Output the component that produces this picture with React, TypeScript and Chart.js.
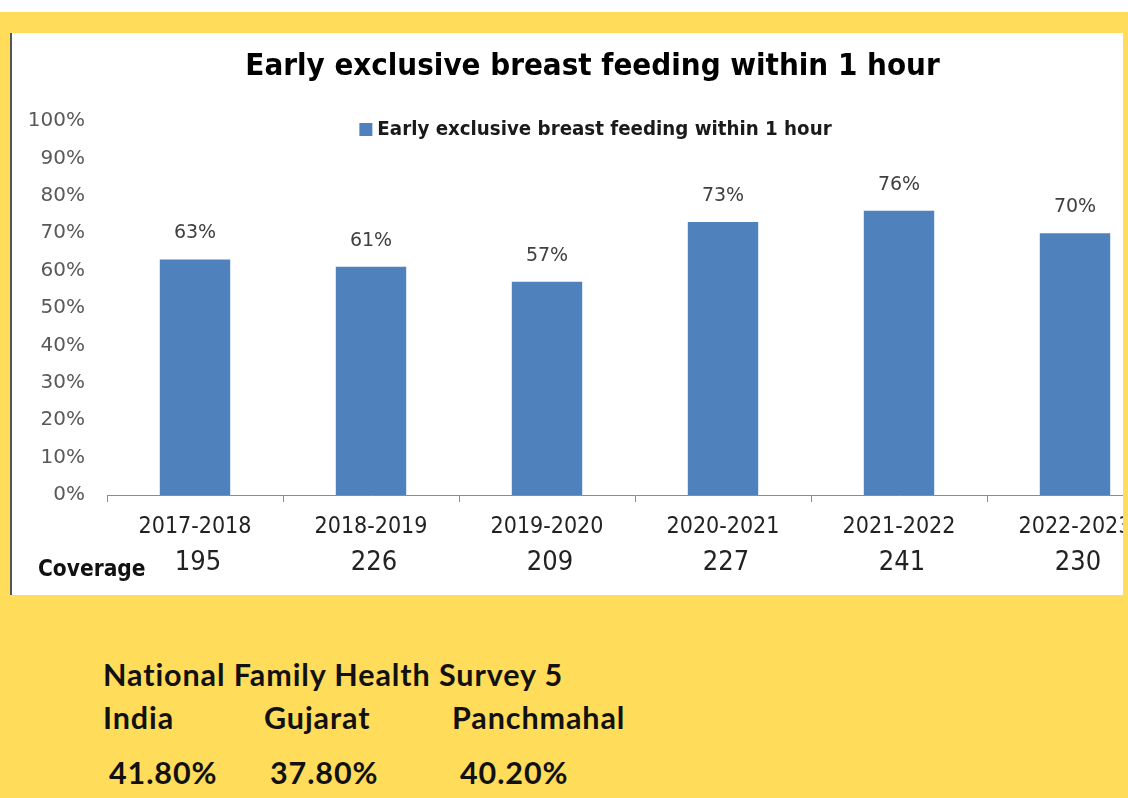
import React, { useEffect, useRef } from "react";
import { Chart, registerables } from "chart.js";

Chart.register(...registerables);

const titleText = "Early exclusive breast feeding within 1 hour";
const seriesLabel = "Early exclusive breast feeding within 1 hour";
const years = ["2017-2018", "2018-2019", "2019-2020", "2020-2021", "2021-2022", "2022-2023"];
const percentValues = [63, 61, 57, 73, 76, 70];
const coverageValues = [195, 226, 209, 227, 241, 230];
const coverageLabel = "Coverage";
const yTicks = [0, 10, 20, 30, 40, 50, 60, 70, 80, 90, 100];

const surveyTitle = "National Family Health Survey 5";
const nfhsRegions = ["India", "Gujarat", "Panchmahal"];
const nfhsValues = [41.8, 37.8, 40.2];

const YELLOW = "#FFDC5A";
const BAR = "#4F81BD";
const NARROW = '"DejaVu Sans Condensed", "Roboto", sans-serif';
const WIDE = '"DejaVu Sans", "Verdana", sans-serif';

const regionLeft = [103, 264, 452];
const valueLeft = [109, 270, 460];

export default function App() {
  const canvasRef = useRef<HTMLCanvasElement | null>(null);

  useEffect(() => {
    const canvas = canvasRef.current;
    if (!canvas) return;

    const legendPlugin = {
      id: "customLegend",
      afterDraw(chart: any) {
        const ctx = chart.ctx;
        const ds = chart.data.datasets[0];
        ctx.save();
        ctx.font = `bold 20.3px ${NARROW}`;
        const tw = ctx.measureText(ds.label).width;
        const box = 13;
        const gap = 5;
        const total = box + gap + tw;
        const cx = chart.width / 2 + 3;
        const cy = chart.chartArea.top + 8.5;
        const sx = cx - total / 2;
        ctx.fillStyle = ds.backgroundColor;
        ctx.fillRect(sx, cy - box / 2, box, box);
        ctx.fillStyle = "#1a1a1a";
        ctx.textBaseline = "middle";
        ctx.textAlign = "left";
        ctx.fillText(ds.label, sx + box + gap, cy);
        ctx.restore();
      },
    };

    const dataLabelPlugin = {
      id: "dataLabels",
      afterDatasetsDraw(chart: any) {
        const ctx = chart.ctx;
        const meta = chart.getDatasetMeta(0);
        ctx.save();
        ctx.font = `19px ${WIDE}`;
        ctx.fillStyle = "#404040";
        ctx.textAlign = "center";
        ctx.textBaseline = "middle";
        meta.data.forEach((el: any, i: number) => {
          ctx.fillText(`${chart.data.datasets[0].data[i]}%`, el.x, el.y - 26);
        });
        ctx.restore();
      },
    };

    const coveragePlugin = {
      id: "coverageRow",
      afterDraw(chart: any) {
        const ctx = chart.ctx;
        const xs = chart.scales.x;
        ctx.save();
        ctx.textBaseline = "middle";
        ctx.textAlign = "left";
        ctx.font = `bold 22.5px ${NARROW}`;
        ctx.fillStyle = "#111";
        ctx.fillText(coverageLabel, 27, 537);
        ctx.font = `27px ${NARROW}`;
        ctx.fillStyle = "#222";
        ctx.textAlign = "center";
        coverageValues.forEach((v, i) => {
          ctx.fillText(String(v), xs.getPixelForValue(i) + 3, 530);
        });
        ctx.restore();
      },
    };

    const chart = new Chart(canvas, {
      type: "bar",
      data: {
        labels: years,
        datasets: [
          {
            label: seriesLabel,
            data: percentValues,
            backgroundColor: BAR,
            borderWidth: 0,
            barPercentage: 0.4,
            categoryPercentage: 1,
          },
        ],
      },
      options: {
        responsive: false,
        animation: false,
        layout: { padding: { left: 11, right: 11, top: 0, bottom: 0 } },
        plugins: {
          legend: { display: false },
          tooltip: { enabled: false },
          title: {
            display: true,
            text: titleText,
            color: "#000",
            font: { family: NARROW, size: 31, weight: "bold" },
            padding: { top: 15, bottom: 35.8 },
          },
        },
        scales: {
          x: {
            grid: {
              display: true,
              drawOnChartArea: false,
              drawTicks: true,
              tickLength: 7,
              color: "#8c8c8c",
              offset: true,
            },
            border: { display: true, color: "#8c8c8c", width: 1 },
            ticks: {
              color: "#222",
              font: { family: NARROW, size: 23 },
              padding: 11,
              maxRotation: 0,
              autoSkip: false,
            },
            afterFit(scale: any) {
              scale.height = 100;
            },
          },
          y: {
            min: 0,
            max: 100,
            afterBuildTicks(scale: any) {
              scale.ticks = yTicks.map((v) => ({ value: v }));
            },
            grid: { display: false, drawTicks: false },
            border: { display: false },
            ticks: {
              color: "#595959",
              font: { family: WIDE, size: 20 },
              padding: 22,
              callback: (v: any) => `${v}%`,
            },
            afterFit(scale: any) {
              scale.width = 85;
            },
          },
        },
      },
      plugins: [legendPlugin, dataLabelPlugin, coveragePlugin],
    });

    return () => chart.destroy();
  }, []);

  const textStyle: React.CSSProperties = {
    position: "absolute",
    fontFamily: '"Lato", "Roboto", sans-serif',
    fontWeight: 700,
    fontSize: 30.5,
    letterSpacing: 0.9,
    color: "#111",
    lineHeight: "34px",
    whiteSpace: "nowrap",
  };

  return (
    <div
      style={{
        position: "absolute",
        left: 0,
        top: 0,
        width: 1128,
        height: 798,
        background: YELLOW,
        overflow: "hidden",
      }}
    >
      <div style={{ position: "absolute", left: 0, top: 0, width: 1128, height: 12, background: "#fff" }} />
      <div
        style={{
          position: "absolute",
          left: 11,
          top: 33,
          width: 1112,
          height: 562,
          background: "#fff",
          overflow: "hidden",
        }}
      >
        <canvas
          ref={canvasRef}
          width={1163}
          height={562}
          style={{ position: "absolute", left: 0, top: 0, width: 1163, height: 562 }}
        />
      </div>
      <div style={{ position: "absolute", left: 10, top: 33, width: 2, height: 562, background: "#555" }} />
      <div style={{ ...textStyle, left: 103, top: 656.5 }}>{surveyTitle}</div>
      {nfhsRegions.map((r, i) => (
        <div key={r} style={{ ...textStyle, left: regionLeft[i], top: 700 }}>
          {r}
        </div>
      ))}
      {nfhsValues.map((v, i) => (
        <div key={i} style={{ ...textStyle, left: valueLeft[i], top: 755 }}>
          {v.toFixed(2)}%
        </div>
      ))}
    </div>
  );
}
